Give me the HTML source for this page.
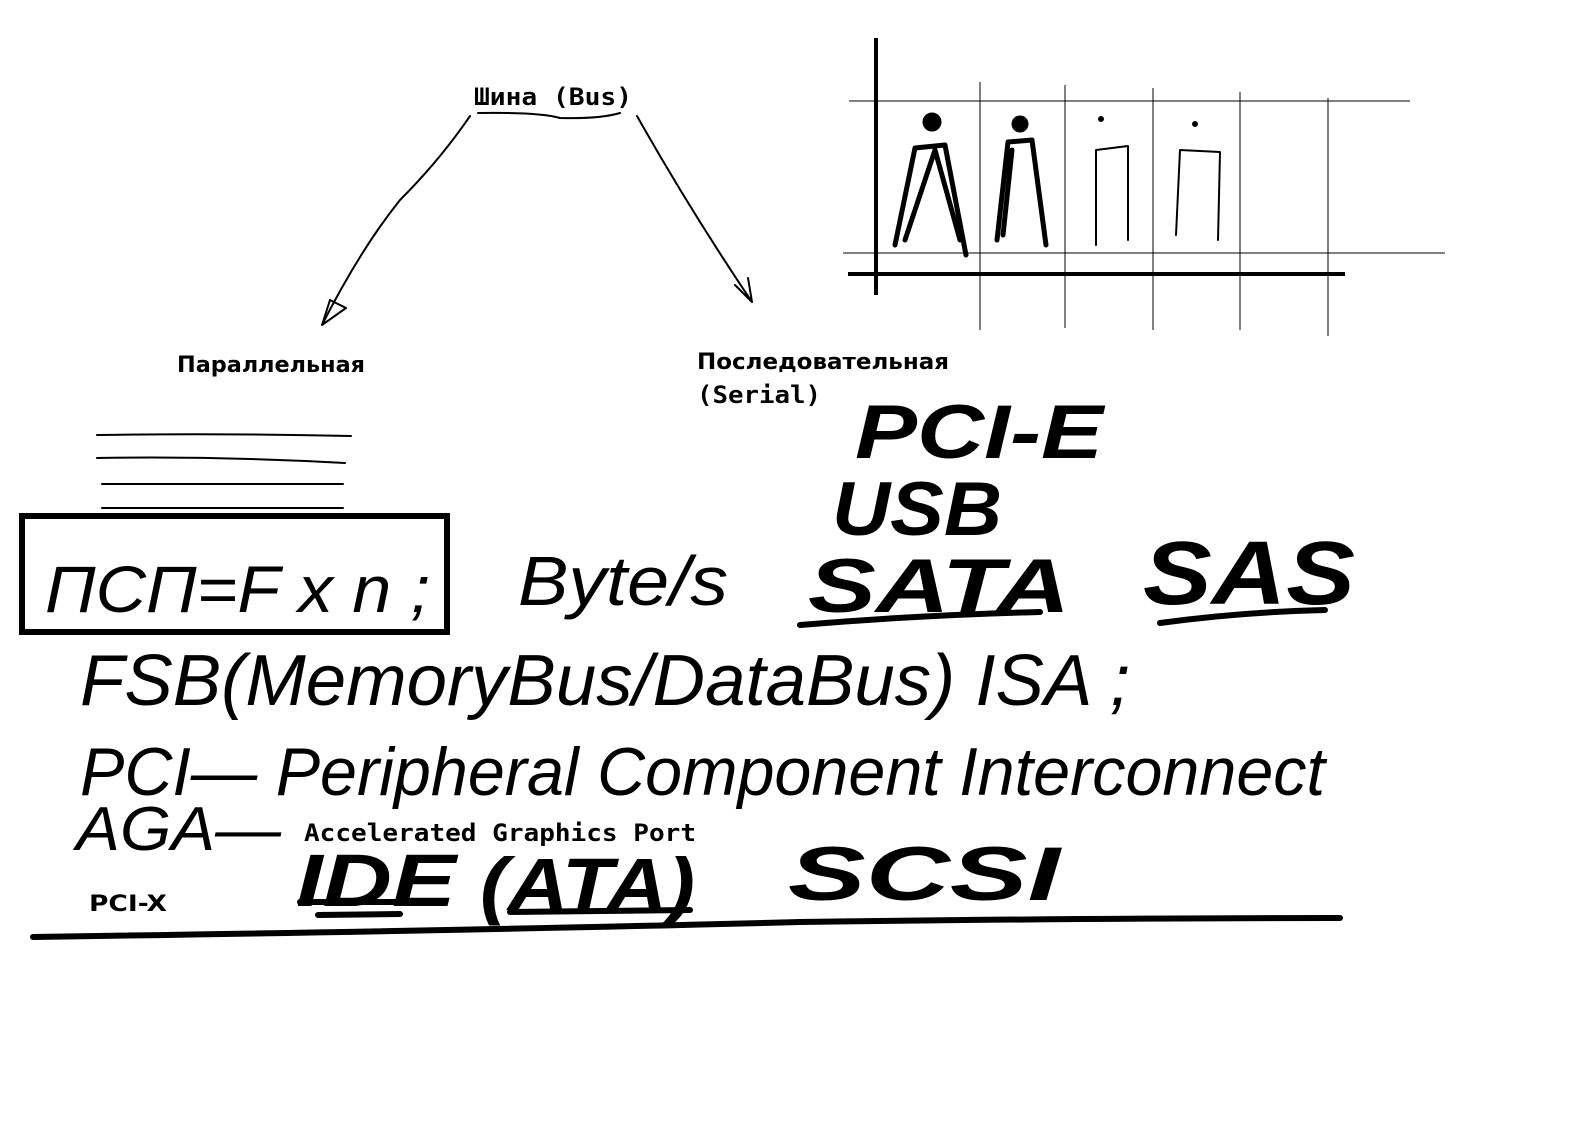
<!DOCTYPE html>
<html><head><meta charset="utf-8"><style>
html,body{margin:0;padding:0;background:#fff;}
svg{display:block}
.m{font-family:"DejaVu Sans Mono","Liberation Mono",monospace;font-weight:bold;font-size:24px;fill:#000}
.s{font-family:"DejaVu Sans","Liberation Sans",sans-serif;font-weight:bold;font-size:22px;fill:#000}
.h{font-family:"Liberation Sans",sans-serif;font-style:italic;fill:#000}
.thin{fill:none;stroke:#000;stroke-width:1}
.pen{fill:none;stroke:#000;stroke-width:2;stroke-linecap:round;stroke-linejoin:round}
.thick{fill:none;stroke:#000;stroke-width:6;stroke-linecap:round;stroke-linejoin:round}
</style></head><body>
<svg width="1588" height="1148" viewBox="0 0 1588 1148">
<text class="m" x="474" y="105" textLength="158" lengthAdjust="spacingAndGlyphs">Шина (Bus)</text>
<path class="pen" d="M478 113 Q540 112 560 118 Q600 119 620 113"/>
<path class="pen" d="M470 116 Q440 160 400 200 Q360 250 322 325 M322 325 L330 300 M322 325 L346 308 M330 300 L346 308"/>
<path class="pen" d="M637 116 Q690 210 752 302 M752 302 L735 285 M752 302 L748 278"/>
<text class="s" x="177" y="372" textLength="188" lengthAdjust="spacingAndGlyphs">Параллельная</text>
<text class="s" x="697" y="369" textLength="252" lengthAdjust="spacingAndGlyphs">Последовательная</text>
<text class="m" x="697" y="403" textLength="124" lengthAdjust="spacingAndGlyphs">(Serial)</text>
<g class="pen">
<path d="M97 435 Q220 433 351 436"/><path d="M97 458 Q220 456 345 463"/><path d="M102 484 L343 484"/><path d="M102 508 L343 508"/>
</g>
<g>
<path class="thin" d="M849 101 L1410 101 M843 253 L1445 253 M980 82 L980 330 M1065 85 L1065 328 M1153 88 L1153 330 M1240 92 L1240 330 M1328 98 L1328 336"/>
<path d="M876 38 L876 295" stroke="#000" stroke-width="4" fill="none"/>
<path d="M848 274 L1345 274" stroke="#000" stroke-width="4" fill="none"/>
<g class="thick" style="stroke-width:5">
<circle cx="932" cy="122" r="7" fill="#000"/><path d="M895 245 L915 148 L945 145 L966 255 M905 240 L935 150 L960 240"/>
<circle cx="1020" cy="124" r="6" fill="#000"/><path d="M997 240 L1008 142 L1032 140 L1046 245 M1003 235 L1012 150"/>
</g>
<g class="pen">
<circle cx="1101" cy="119" r="2" fill="#000"/><path d="M1096 245 L1096 150 L1128 146 L1128 240"/>
<circle cx="1195" cy="124" r="2" fill="#000"/><path d="M1176 235 L1180 150 L1220 152 L1218 240"/>
</g>
</g>
<rect x="22" y="516" width="425" height="116" fill="none" stroke="#000" stroke-width="6"/>
<text class="h" x="45" y="612" font-size="66" textLength="385" lengthAdjust="spacingAndGlyphs">ПСП=F x n ;</text>
<text class="h" x="518" y="605" font-size="70" textLength="210" lengthAdjust="spacingAndGlyphs">Byte/s</text>
<text class="h" x="855" y="458" font-size="76" font-weight="bold" textLength="248" lengthAdjust="spacingAndGlyphs">PCI-E</text>
<text class="h" x="832" y="535" font-size="76" font-weight="bold" textLength="170" lengthAdjust="spacingAndGlyphs">USB</text>
<text class="h" x="808" y="612" font-size="76" font-weight="bold" textLength="262" lengthAdjust="spacingAndGlyphs">SATA</text>
<path class="thick" d="M800 625 Q920 615 1040 612"/>
<text class="h" x="1143" y="604" font-size="90" font-weight="bold" textLength="212" lengthAdjust="spacingAndGlyphs">SAS</text>
<path class="thick" d="M1160 623 Q1240 612 1325 610"/>
<text class="h" x="80" y="705" font-size="72" textLength="1050" lengthAdjust="spacingAndGlyphs">FSB(MemoryBus/DataBus) ISA ;</text>
<text class="h" x="80" y="795" font-size="68" textLength="1245" lengthAdjust="spacingAndGlyphs">PCI— Peripheral Component Interconnect</text>
<text class="h" x="76" y="850" font-size="62" textLength="205" lengthAdjust="spacingAndGlyphs">AGA—</text>
<text class="m" x="304" y="841" textLength="392" lengthAdjust="spacingAndGlyphs">Accelerated Graphics Port</text>
<text class="s" x="89" y="911" textLength="78" lengthAdjust="spacingAndGlyphs">PCI-X</text>
<text class="h" x="296" y="906" font-size="74" font-weight="bold" textLength="160" lengthAdjust="spacingAndGlyphs">IDE</text>
<text class="h" x="480" y="910" font-size="74" font-weight="bold" textLength="215" lengthAdjust="spacingAndGlyphs">(ATA)</text>
<path class="thick" d="M300 902 L400 902 M318 915 L400 914 M510 912 L690 910"/>
<text class="h" x="788" y="900" font-size="76" font-weight="bold" textLength="272" lengthAdjust="spacingAndGlyphs">SCSI</text>
<path class="thick" d="M33 937 Q500 930 800 922 Q1100 918 1340 918"/>
</svg>
</body></html>
